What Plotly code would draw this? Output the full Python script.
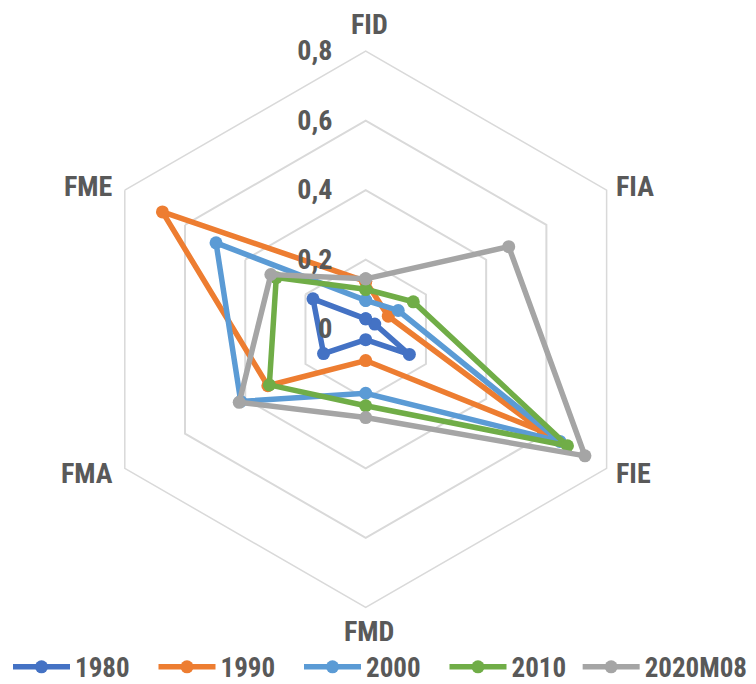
import math
import plotly.graph_objects as go

categories = ["FID", "FIA", "FIE", "FMD", "FMA", "FME"]
series_names = ["1980", "1990", "2000", "2010", "2020M08"]
v1980 = [0.03, 0.03, 0.145, 0.03, 0.14, 0.175]
v1990 = [0.138, 0.075, 0.59, 0.09, 0.325, 0.675]
v2000 = [0.083, 0.108, 0.645, 0.184, 0.415, 0.497]
v2010 = [0.115, 0.158, 0.67, 0.22, 0.32, 0.297]
v2020 = [0.145, 0.475, 0.728, 0.254, 0.42, 0.315]
radial_ticks = [0, 0.2, 0.4, 0.6, 0.8]
radial_ticktext = ["0", "0,2", "0,4", "0,6", "0,8"]

colors = ["#4472C4", "#ED7D31", "#5B9BD5", "#70AD47", "#A5A5A5"]
all_values = [v1980, v1990, v2000, v2010, v2020]

FONT = "Liberation Sans Narrow, Arial Narrow, Roboto Condensed, Liberation Sans, sans-serif"
TXT = "#595959"
W, H = 756, 684
DOM_X = [0.0975, 0.8488]
DOM_Y = [0.1053, 0.9357]
# hexagon geometry on the page (pixels) for placing category labels
CX, CY, R = 359, 330, 278
LEGEND_PITCH = 145.5

fig = go.Figure()
for i, (name, vals, col) in enumerate(zip(series_names, all_values, colors)):
    fig.add_trace(go.Scatterpolar(
        r=vals + vals[:1],
        theta=categories + categories[:1],
        name=name,
        mode="lines+markers",
        line=dict(color=col, width=5.5),
        marker=dict(color=col, size=13),
        legend="legend" if i == 0 else f"legend{i + 1}",
    ))

annotations = []
for i, cat in enumerate(categories):
    ang = math.radians(90 - 60 * i)
    vx = CX + R * math.cos(ang)
    vy = CY - R * math.sin(ang)
    c = math.cos(ang)
    s = math.sin(ang)
    if abs(c) < 1e-6:
        px, py = vx + 2, vy - (35 if s > 0 else -29)
        xa = "center"
    else:
        px = vx + (6 if c > 0 else -11)
        py = vy + (-9 if s > 0 else 6)
        xa = "left" if c > 0 else "right"
    annotations.append(dict(
        text=cat, x=px / W, y=1 - py / H, xref="paper", yref="paper",
        xanchor=xa, yanchor="middle", showarrow=False,
        font=dict(family=FONT, size=28, color=TXT, weight="bold"),
    ))

legend_common = dict(
    orientation="h",
    xanchor="left",
    y=0.016, yanchor="middle",
    font=dict(family=FONT, size=27, color=TXT, weight="bold"),
    itemwidth=57,
    bgcolor="rgba(0,0,0,0)",
)
legends = {}
n = len(series_names)
for i in range(n):
    key = "legend" if i == 0 else f"legend{i + 1}"
    if i == n - 1:
        legends[key] = dict(legend_common, x=0.985, xanchor="right")
    else:
        legends[key] = dict(legend_common, x=i * LEGEND_PITCH / W)

fig.update_layout(
    width=W, height=H,
    paper_bgcolor="white",
    plot_bgcolor="white",
    margin=dict(l=0, r=0, t=0, b=0),
    font=dict(family=FONT, size=28, color=TXT),
    annotations=annotations,
    polar=dict(
        domain=dict(x=DOM_X, y=DOM_Y),
        bgcolor="white",
        gridshape="linear",
        radialaxis=dict(
            range=[0, 0.8],
            tickvals=radial_ticks,
            ticktext=radial_ticktext,
            showline=False,
            gridcolor="#D9D9D9",
            gridwidth=1.5,
            angle=90,
            tickangle=90,
            side="counterclockwise",
            ticks="outside",
            ticklen=23,
            tickcolor="rgba(0,0,0,0)",
            tickfont=dict(family=FONT, size=28, color=TXT, weight="bold"),
        ),
        angularaxis=dict(
            rotation=90,
            direction="clockwise",
            showgrid=False,
            showline=True,
            linecolor="#D9D9D9",
            linewidth=1.5,
            ticks="",
            showticklabels=False,
        ),
    ),
    showlegend=True,
    **legends,
)

fig.write_html("out.html")
